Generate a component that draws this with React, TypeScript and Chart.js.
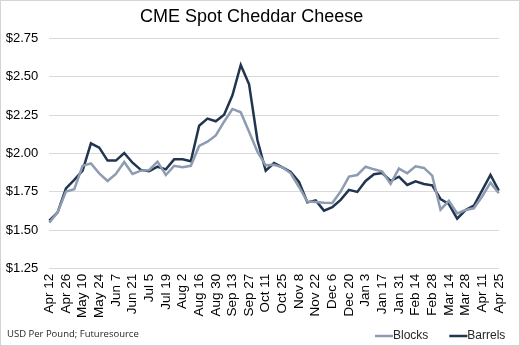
import React, { useEffect, useRef } from "react";
import { Chart, registerables } from "chart.js";

Chart.register(...registerables);

const TITLE = "CME Spot Cheddar Cheese";
const FOOTNOTE = "USD Per Pound; Futuresource";

const weeks: string[] = [
  "Apr 12", "Apr 19", "Apr 26", "May 3", "May 10", "May 17", "May 24", "May 31",
  "Jun 7", "Jun 14", "Jun 21", "Jun 28", "Jul 5", "Jul 12", "Jul 19", "Jul 26",
  "Aug 2", "Aug 9", "Aug 16", "Aug 23", "Aug 30", "Sep 6", "Sep 13", "Sep 20",
  "Sep 27", "Oct 4", "Oct 11", "Oct 18", "Oct 25", "Nov 1", "Nov 8", "Nov 15",
  "Nov 22", "Nov 29", "Dec 6", "Dec 13", "Dec 20", "Dec 27", "Jan 3", "Jan 10",
  "Jan 17", "Jan 24", "Jan 31", "Feb 7", "Feb 14", "Feb 21", "Feb 28", "Mar 7",
  "Mar 14", "Mar 21", "Mar 28", "Apr 4", "Apr 11", "Apr 18", "Apr 25",
];

const blocks: number[] = [
  1.55, 1.617, 1.752, 1.767, 1.92, 1.936, 1.871, 1.821, 1.867, 1.945,
  1.867, 1.888, 1.893, 1.947, 1.86, 1.92, 1.91, 1.92, 2.049, 2.077,
  2.118, 2.207, 2.29, 2.268, 2.142, 2.012, 1.923, 1.927, 1.91, 1.871,
  1.782, 1.687, 1.684, 1.68, 1.678, 1.752, 1.85, 1.86, 1.914, 1.897,
  1.882, 1.802, 1.902, 1.871, 1.917, 1.906, 1.856, 1.634, 1.692, 1.61,
  1.632, 1.643, 1.72, 1.81, 1.741,
];

const barrels: number[] = [
  1.563, 1.617, 1.773, 1.828, 1.888, 2.066, 2.038, 1.954, 1.954, 2.003,
  1.94, 1.893, 1.884, 1.914, 1.897, 1.962, 1.962, 1.949, 2.181, 2.227,
  2.21, 2.253, 2.379, 2.576, 2.45, 2.088, 1.888, 1.938, 1.91, 1.88,
  1.815, 1.682, 1.695, 1.628, 1.65, 1.698, 1.763, 1.75, 1.821, 1.865,
  1.873, 1.821, 1.849, 1.795, 1.819, 1.802, 1.793, 1.704, 1.671, 1.576,
  1.632, 1.66, 1.76, 1.86, 1.758,
];

const seriesNames = ["Blocks", "Barrels"];
const seriesColors = ["#8e9cb1", "#22354f"];

const FONT = "'Liberation Sans', Arial, sans-serif";

const extrasPlugin = {
  id: "extras",
  afterDraw(chart: any) {
    const ctx = chart.ctx as CanvasRenderingContext2D;
    ctx.save();
    // footnote
    ctx.font = `9.5px 'Open Sans', sans-serif`;
    ctx.fillStyle = "#262626";
    ctx.textBaseline = "middle";
    ctx.textAlign = "left";
    ctx.fillText(FOOTNOTE, 7, 334);
    // legend
    ctx.font = `12px ${FONT}`;
    const y = 336;
    let x = 375;
    chart.data.datasets.forEach((ds: any) => {
      ctx.strokeStyle = ds.borderColor;
      ctx.lineWidth = 2.5;
      ctx.beginPath();
      ctx.moveTo(x, y);
      ctx.lineTo(x + 18, y);
      ctx.stroke();
      ctx.fillStyle = "#262626";
      ctx.fillText(ds.label, x + 18, y);
      x += 18 + ctx.measureText(ds.label).width + 21;
    });
    // border
    ctx.strokeStyle = "#d4d4d4";
    ctx.lineWidth = 1;
    ctx.strokeRect(0.5, 0.5, chart.width - 1, chart.height - 1);
    ctx.restore();
  },
};

const bgPlugin = {
  id: "bg",
  beforeDraw(chart: any) {
    const ctx = chart.ctx;
    ctx.save();
    ctx.fillStyle = "#ffffff";
    ctx.fillRect(0, 0, chart.width, chart.height);
    ctx.restore();
  },
};

export default function App() {
  const ref = useRef<HTMLCanvasElement | null>(null);
  useEffect(() => {
    if (!ref.current) return;
    const chart = new Chart(ref.current, {
      type: "line",
      data: {
        labels: weeks,
        datasets: [
          {
            label: seriesNames[0],
            data: blocks,
            borderColor: seriesColors[0],
            backgroundColor: seriesColors[0],
            borderWidth: 2.5,
            pointRadius: 0,
            tension: 0,
          },
          {
            label: seriesNames[1],
            data: barrels,
            borderColor: seriesColors[1],
            backgroundColor: seriesColors[1],
            borderWidth: 2.5,
            pointRadius: 0,
            tension: 0,
          },
        ],
      },
      options: {
        animation: false,
        responsive: false,
        maintainAspectRatio: false,
        layout: { padding: { left: 0, right: 16.7, top: 0, bottom: 0 } },
        plugins: {
          legend: { display: false },
          tooltip: { enabled: false },
          title: {
            display: true,
            text: TITLE,
            color: "#000000",
            font: { family: FONT, size: 18, weight: "normal" },
            padding: { top: 6, bottom: 10.7 },
          },
        },
        scales: {
          x: {
            grid: { display: false, drawTicks: false },
            border: { display: false },
            ticks: {
              autoSkip: false,
              minRotation: 90,
              maxRotation: 90,
              padding: 5,
              color: "#000000",
              font: { family: FONT, size: 13.5 },
              callback: (_v: any, i: number) => (i % 2 === 0 ? weeks[i] : ""),
            },
            afterFit: (s: any) => {
              s.height = 77.3;
            },
          },
          y: {
            min: 1.25,
            max: 2.75,
            grid: { color: "#d9d9d9", lineWidth: 1, drawTicks: false },
            border: { display: false },
            ticks: {
              stepSize: 0.25,
              padding: 11,
              color: "#000000",
              font: { family: FONT, size: 13 },
              callback: (v: any) => "$" + Number(v).toFixed(2),
            },
            afterFit: (s: any) => {
              s.width = 49.3;
            },
          },
        },
      },
      plugins: [bgPlugin, extrasPlugin],
    });
    return () => chart.destroy();
  }, []);
  return (
    <div style={{ position: "fixed", left: 0, top: 0, width: 520, height: 346 }}>
      <canvas ref={ref} width={520} height={346} style={{ width: 520, height: 346, display: "block" }} />
    </div>
  );
}
